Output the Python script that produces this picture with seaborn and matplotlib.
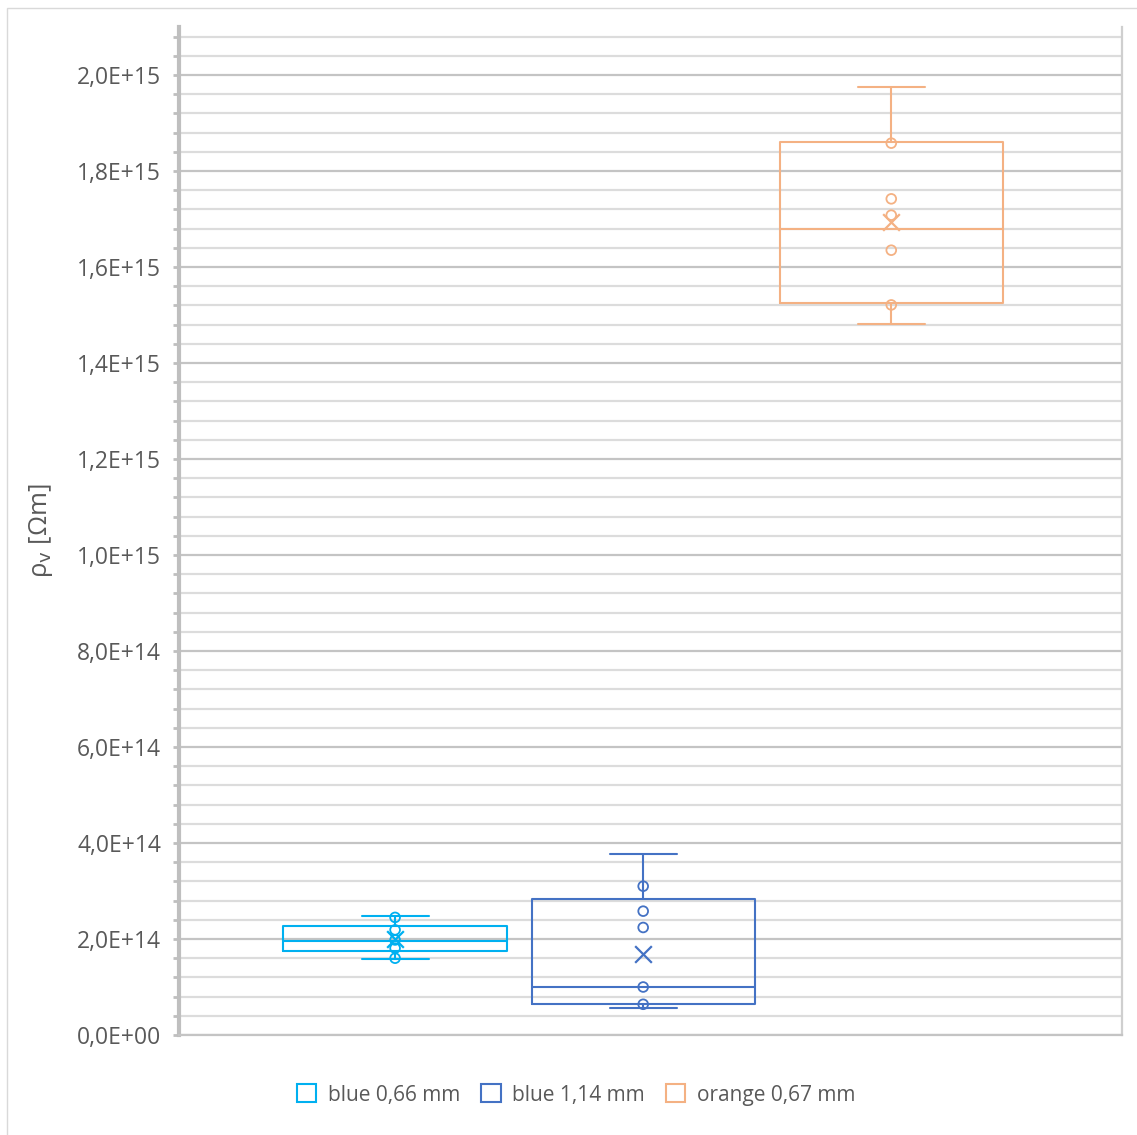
import numpy as np
import pandas as pd
import matplotlib
matplotlib.use("Agg")
import matplotlib.pyplot as plt
import seaborn as sns
from matplotlib.patches import Patch, Rectangle
from matplotlib.ticker import MultipleLocator, FuncFormatter

# ---- data -------------------------------------------------------------
series = ["blue 0,66 mm", "blue 1,14 mm", "orange 0,67 mm"]
colors = ["#00B0F0", "#4472C4", "#F4B183"]

# five-number summaries: lower whisker, Q1, median, Q3, upper whisker [Ωm]
blue066_box = [1.58e14, 1.74e14, 1.96e14, 2.27e14, 2.48e14]
blue114_box = [0.56e14, 0.64e14, 1.00e14, 2.83e14, 3.78e14]
orange067_box = [1.481e15, 1.526e15, 1.679e15, 1.861e15, 1.976e15]

# individual measurements shown as points [Ωm]
blue066_points = [2.45e14, 2.19e14, 1.98e14, 1.81e14, 1.60e14]
blue114_points = [3.10e14, 2.58e14, 2.24e14, 1.00e14, 0.64e14]
orange067_points = [1.858e15, 1.742e15, 1.708e15, 1.635e15, 1.521e15]

# mean values [Ωm]
means = [1.99e14, 1.68e14, 1.694e15]

# ---- frames -----------------------------------------------------------
box_df = pd.DataFrame({
    "series": np.repeat(series, 5),
    "rho": np.concatenate([blue066_box, blue114_box, orange067_box]),
})
pts_df = pd.DataFrame({
    "series": np.repeat(series, [len(blue066_points), len(blue114_points), len(orange067_points)]),
    "rho": np.concatenate([blue066_points, blue114_points, orange067_points]),
})
mean_df = pd.DataFrame({"series": series, "rho": means})
palette = dict(zip(series, colors))

# ---- style ------------------------------------------------------------
sns.set_theme(style="white")
plt.rcParams["font.family"] = ["Open Sans", "DejaVu Sans"]
text_color = "#595959"
major_grid = "#C4C4C4"
minor_grid = "#DCDCDC"

fig = plt.figure(figsize=(11.37, 11.35), dpi=100)
ax = fig.add_axes([179 / 1137, 100 / 1135, 943 / 1137, 1008 / 1135])

sns.boxplot(data=box_df, x="series", y="rho", hue="series", order=series,
            hue_order=series, palette=palette, fill=False, width=0.9,
            whis=(0, 100), showfliers=False, linewidth=1.5, legend=False,
            capwidths=0.27, ax=ax)

n0 = len(ax.collections)
sns.stripplot(data=pts_df, x="series", y="rho", hue="series", order=series,
              hue_order=series, palette=palette, jitter=False, size=7,
              marker="o", linewidth=1.3, legend=False, ax=ax, zorder=4)
for coll in ax.collections[n0:]:
    fc = coll.get_facecolors()
    coll.set_edgecolors(fc)
    coll.set_facecolors("none")
    coll.set_linewidth(1.3)

n1 = len(ax.collections)
sns.stripplot(data=mean_df, x="series", y="rho", hue="series", order=series,
              hue_order=series, palette=palette, jitter=False, size=12,
              marker="x", linewidth=1.6, legend=False, ax=ax, zorder=5)
for coll in ax.collections[n1:]:
    fc = coll.get_facecolors()
    coll.set_edgecolors(fc)
    coll.set_linewidth(1.6)

# ---- axes -------------------------------------------------------------
ax.set_xlim(-0.871, 2.93)
ax.set_ylim(0, 2.1e15)
ax.set_xticks([])
ax.set_xlabel("")

ax.yaxis.set_major_locator(MultipleLocator(2e14))
ax.yaxis.set_minor_locator(MultipleLocator(4e13))
ax.yaxis.set_major_formatter(
    FuncFormatter(lambda v, p: f"{v:.1E}".replace(".", ",")))
ax.grid(axis="y", which="major", color=major_grid, linewidth=1.6, zorder=0)
ax.grid(axis="y", which="minor", color=minor_grid, linewidth=1.6, zorder=0)
ax.set_axisbelow(True)
ax.tick_params(axis="y", which="both", direction="out", length=4, width=2,
               color="#BFBFBF", left=True)
ax.tick_params(axis="y", which="major", labelsize=16.5, labelcolor=text_color,
               pad=9)

ax.spines["top"].set_visible(False)
ax.spines["left"].set_color("#BFBFBF")
ax.spines["left"].set_linewidth(3)
ax.spines["right"].set_color("#CFCFCF")
ax.spines["right"].set_linewidth(1.6)
ax.spines["bottom"].set_color(major_grid)
ax.spines["bottom"].set_linewidth(1.6)

ax.set_ylabel("ρ$_\\mathrm{v}$ [Ωm]", fontsize=18.5, color=text_color)
ax.yaxis.set_label_coords(-0.131, 0.5)

handles = [Patch(facecolor="white", edgecolor=c, linewidth=1.5, label=s)
           for s, c in zip(series, colors)]
fig.legend(handles=handles, loc="center", bbox_to_anchor=(576 / 1137, 40 / 1135),
           ncol=3, frameon=False, fontsize=15, labelcolor=text_color,
           handlelength=0.95, handleheight=0.95, handletextpad=0.55,
           columnspacing=1.0)

# outer chart frame
fig.add_artist(Rectangle((7 / 1137, -0.01), 1.02, 1 - 8 / 1135 + 0.01,
                         transform=fig.transFigure, fill=False,
                         edgecolor="#D9D9D9", linewidth=1))

fig.savefig("out.png", dpi=100, facecolor="white")
